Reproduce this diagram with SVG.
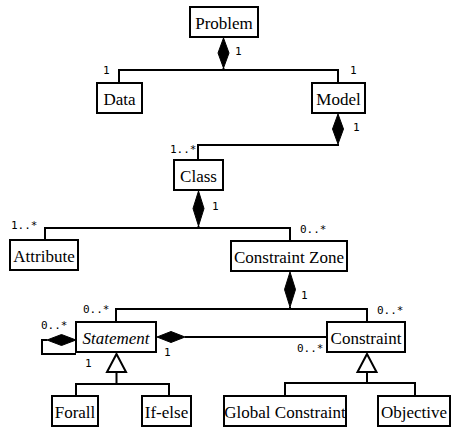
<svg xmlns="http://www.w3.org/2000/svg" width="452" height="428" viewBox="0 0 452 428">
<style>
.box{fill:#fff;stroke:#000;stroke-width:2}
.t{font-family:"Liberation Serif","Times New Roman",serif;font-size:17px;text-anchor:middle;fill:#000}
.i{font-style:italic}
.m{font-family:"DejaVu Sans Mono",monospace;font-size:11px;fill:#000}
.ln{fill:none;stroke:#000;stroke-width:2}
.dia{fill:#000;stroke:#000;stroke-width:1}
.tri{fill:#fff;stroke:#000;stroke-width:2}
</style>
<rect width="452" height="428" fill="#fff"/>
<g id="connectors">
  <path class="ln" d="M223.5,68 V70 M119,83 V70 H338 V83"/>
  <path class="dia" d="M223.5,38 L229,53 L223.5,68 L218,53 Z"/>
  <path class="ln" d="M338,144 V145 H198 V160"/>
  <path class="dia" d="M338,114 L343.5,129 L338,144 L332.5,129 Z"/>
  <path class="ln" d="M198.5,226 V228 M45,240 V228 H290 V241"/>
  <path class="dia" d="M198.5,191 L204,208.5 L198.5,226 L193,208.5 Z"/>
  <path class="ln" d="M290,307 V309 M116,322 V309 H367 V322"/>
  <path class="dia" d="M290,272 L295.5,289.5 L290,307 L284.5,289.5 Z"/>
  <path class="ln" d="M185,337 H327"/>
  <path class="dia" d="M157,337 L171,331.5 L185,337 L171,342.5 Z"/>
  <path class="ln" d="M47,340 H42 V354 H76"/>
  <path class="dia" d="M76,340 L61.5,334.5 L47,340 L61.5,345.5 Z"/>
  <path class="ln" d="M116.5,372 V384 M76,396 V384 H169 V396"/>
  <path class="tri" d="M116.5,354 L126,372 L107,372 Z"/>
  <path class="ln" d="M367,372 V383 M285,395 V383 H415 V395"/>
  <path class="tri" d="M367,354 L376.5,372 L357.5,372 Z"/>
</g>
<g id="labels">
  <text class="m" x="235" y="55">1</text>
  <text class="m" x="103" y="74">1</text>
  <text class="m" x="350" y="74">1</text>
  <text class="m" x="353" y="131">1</text>
  <text class="m" x="170" y="153">1..*</text>
  <text class="m" x="212" y="210">1</text>
  <text class="m" x="11" y="229">1..*</text>
  <text class="m" x="300" y="233">0..*</text>
  <text class="m" x="301" y="299">1</text>
  <text class="m" x="83" y="313">0..*</text>
  <text class="m" x="377" y="314">0..*</text>
  <text class="m" x="41" y="329">0..*</text>
  <text class="m" x="85" y="367">1</text>
  <text class="m" x="164" y="356">1</text>
  <text class="m" x="297" y="352">0..*</text>
</g>
<g id="problem"><rect class="box" x="190" y="7" width="68" height="30"/><text class="t" x="224" y="29">Problem</text></g>
<g id="data"><rect class="box" x="97" y="83" width="45" height="30"/><text class="t" x="119.5" y="105">Data</text></g>
<g id="model"><rect class="box" x="312" y="83" width="53" height="30"/><text class="t" x="338.5" y="105">Model</text></g>
<g id="class"><rect class="box" x="174" y="160" width="49" height="30"/><text class="t" x="198.5" y="182">Class</text></g>
<g id="attribute"><rect class="box" x="10" y="240" width="68" height="30"/><text class="t" x="44" y="262">Attribute</text></g>
<g id="constraint-zone"><rect class="box" x="231" y="241" width="116" height="30"/><text class="t" x="289" y="263">Constraint Zone</text></g>
<g id="statement"><rect class="box" x="76" y="322" width="80" height="30"/><text class="t i" x="116" y="344">Statement</text></g>
<g id="constraint"><rect class="box" x="327" y="322" width="78" height="30"/><text class="t" x="366" y="344">Constraint</text></g>
<g id="forall"><rect class="box" x="52" y="396" width="46" height="30"/><text class="t" x="75" y="418">Forall</text></g>
<g id="if-else"><rect class="box" x="142" y="396" width="49" height="30"/><text class="t" x="166.5" y="418">If-else</text></g>
<g id="global-constraint"><rect class="box" x="224" y="396" width="122" height="30"/><text class="t" x="285" y="418">Global Constraint</text></g>
<g id="objective"><rect class="box" x="378" y="396" width="72" height="30"/><text class="t" x="414" y="418">Objective</text></g>
</svg>
